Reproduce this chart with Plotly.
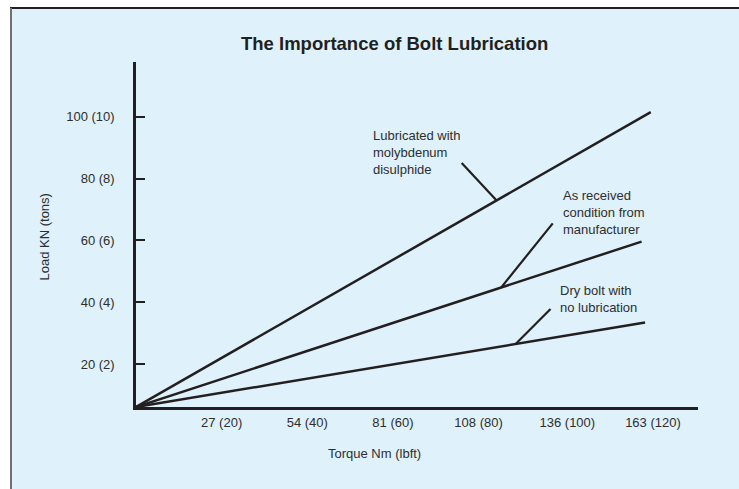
import numpy as np
import plotly.graph_objects as go

# ---- data -------------------------------------------------------------
# Torque axis in Nm (lbft in brackets), load axis in kN (tons in brackets)
torque_ticks = [27, 54, 81, 108, 136, 163]
torque_tick_text = ["27 (20)", "54 (40)", "81 (60)", "108 (80)", "136 (100)", "163 (120)"]
load_ticks = [20, 40, 60, 80, 100]
load_tick_text = ["20 (2)", "40 (4)", "60 (6)", "80 (8)", "100 (10)"]

# Axis extents (the axes cross just above zero load)
torque_range = [0, 177.2]
load_range = [6.1, 117.7]

# Each condition runs straight from the axes' corner to its end point
moly_torque = [0, 162.3]
moly_load = [6.1, 101.5]
received_torque = [0, 159.4]
received_load = [6.1, 59.6]
dry_torque = [0, 160.5]
dry_load = [6.1, 33.4]

series_labels = [
    "Lubricated with<br>molybdenum<br>disulphide",
    "As received<br>condition from<br>manufacturer",
    "Dry bolt with<br>no lubrication",
]
# label anchor (torque, load) for each callout, left/middle anchored
label_pos = [(74.0, 88.5), (133.9, 69.0), (132.9, 41.1)]
# leader lines: torque where the leader touches its line, and its free end
leader_tip_torque = [113.7, 115.1, 119.7]
leader_tail = [(102.7, 85.0), (131.4, 65.5), (130.7, 37.8)]

# ---- styling ------------------------------------------------------------
INK = "#231f20"
TEXT = "#2e2e2e"
PANEL = "#dff1fb"
FONT = "Liberation Sans, Arial, sans-serif"

W, H = 739, 489
PL, PR, PT, PB = 136, 698, 62, 407  # plot box in pixels


def px_to_paper(x=None, y=None):
    out = []
    if x is not None:
        out.append((x - PL) / (PR - PL))
    if y is not None:
        out.append((PB - y) / (PB - PT))
    return out[0] if len(out) == 1 else tuple(out)


fig = go.Figure()

series = [
    (moly_torque, moly_load),
    (received_torque, received_load),
    (dry_torque, dry_load),
]
for (tq, ld), name in zip(series, series_labels):
    fig.add_trace(go.Scatter(
        x=tq, y=ld, mode="lines", name=name.replace("<br>", " "),
        line=dict(color=INK, width=2.5), hoverinfo="skip", showlegend=False,
        cliponaxis=False,
    ))

shapes = []
# panel background and its top / left rules
shapes.append(dict(type="rect", xref="paper", yref="paper",
                   x0=px_to_paper(x=11), x1=px_to_paper(x=W + 5),
                   y0=px_to_paper(y=H + 5), y1=px_to_paper(y=8),
                   fillcolor=PANEL, line=dict(width=0), layer="below"))
shapes.append(dict(type="line", xref="paper", yref="paper",
                   x0=px_to_paper(x=10), x1=px_to_paper(x=W + 5),
                   y0=px_to_paper(y=8), y1=px_to_paper(y=8),
                   line=dict(color=INK, width=2), layer="below"))
shapes.append(dict(type="line", xref="paper", yref="paper",
                   x0=px_to_paper(x=11), x1=px_to_paper(x=11),
                   y0=px_to_paper(y=8), y1=px_to_paper(y=H + 5),
                   line=dict(color="#707070", width=2), layer="below"))

# leader lines from each callout to its line
for (tq, ld), tip_t, (tail_t, tail_l) in zip(series, leader_tip_torque, leader_tail):
    tip_l = float(np.interp(tip_t, tq, ld))
    shapes.append(dict(type="line", xref="x", yref="y",
                       x0=tail_t, y0=tail_l, x1=tip_t, y1=tip_l,
                       line=dict(color=INK, width=2.2)))

annotations = []
for text, (tx, ty) in zip(series_labels, label_pos):
    annotations.append(dict(x=tx, y=ty, xref="x", yref="y", text=text,
                            showarrow=False, xanchor="left", yanchor="middle",
                            align="left", font=dict(size=13, color=TEXT, family=FONT)))

tx, ty = px_to_paper(x=394.2, y=43)
annotations.append(dict(x=tx, y=ty, xref="paper", yref="paper",
                        text="<b>The Importance of Bolt Lubrication</b>",
                        showarrow=False, xanchor="center", yanchor="middle",
                        font=dict(size=18.5, color=INK, family=FONT)))
tx, ty = px_to_paper(x=374.4, y=453)
annotations.append(dict(x=tx, y=ty, xref="paper", yref="paper",
                        text="Torque Nm (lbft)", showarrow=False,
                        xanchor="center", yanchor="middle",
                        font=dict(size=13, color=TEXT, family=FONT)))
tx, ty = px_to_paper(x=44, y=237.5)
annotations.append(dict(x=tx, y=ty, xref="paper", yref="paper",
                        text="Load KN (tons)", showarrow=False, textangle=-90,
                        xanchor="center", yanchor="middle",
                        font=dict(size=13, color=TEXT, family=FONT)))

fig.update_layout(
    width=W, height=H, autosize=False,
    margin=dict(l=PL, r=W - PR, t=PT, b=H - PB, pad=0),
    paper_bgcolor="white", plot_bgcolor="rgba(0,0,0,0)",
    font=dict(family=FONT, color=TEXT, size=13),
    shapes=shapes, annotations=annotations, showlegend=False,
)
fig.update_xaxes(
    range=torque_range, tickvals=torque_ticks, ticktext=torque_tick_text,
    showgrid=False, zeroline=False, showline=True, linecolor=INK, linewidth=2.5,
    ticks="", ticklabelstandoff=2, tickfont=dict(size=13, color=TEXT, family=FONT),
    fixedrange=True,
)
fig.update_yaxes(
    range=load_range, tickvals=load_ticks, ticktext=load_tick_text,
    showgrid=False, zeroline=False, showline=True, linecolor=INK, linewidth=2.5,
    ticks="inside", ticklen=9, tickwidth=2, tickcolor=INK,
    ticklabelstandoff=16, tickfont=dict(size=13, color=TEXT, family=FONT),
    fixedrange=True,
)

fig.write_html("out.html")
